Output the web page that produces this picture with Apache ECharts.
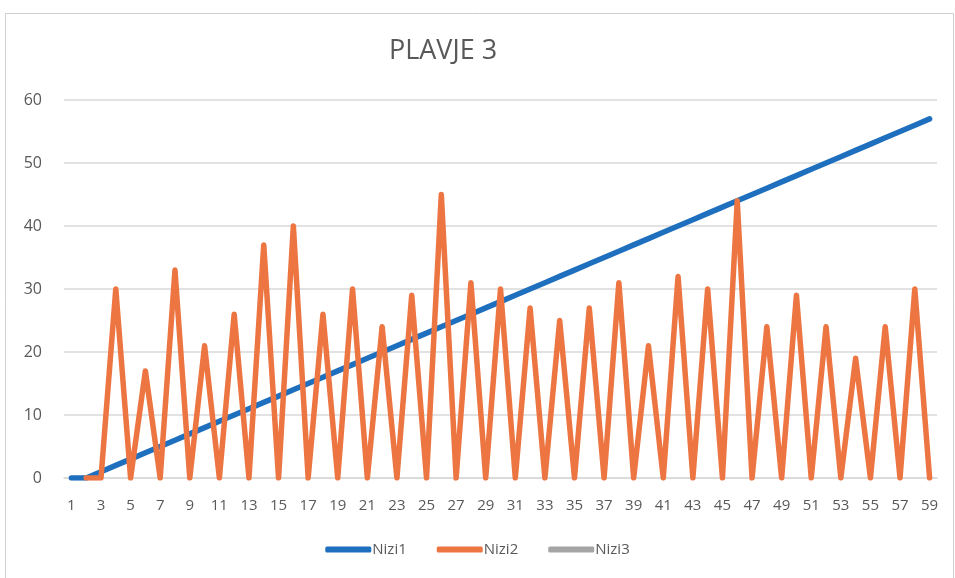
<!DOCTYPE html>
<html>
<head>
<meta charset="utf-8">
<script src="https://cdn.jsdelivr.net/npm/echarts@6/dist/echarts.min.js"></script>
<style>
  html, body { margin: 0; padding: 0; background: #ffffff; }
  #chart { width: 955px; height: 578px; }
</style>
</head>
<body>
<div id="chart"></div>
<script>
// Category labels 1..59
const categories = [
  '1','2','3','4','5','6','7','8','9','10',
  '11','12','13','14','15','16','17','18','19','20',
  '21','22','23','24','25','26','27','28','29','30',
  '31','32','33','34','35','36','37','38','39','40',
  '41','42','43','44','45','46','47','48','49','50',
  '51','52','53','54','55','56','57','58','59'
];

// Nizi1: steady rising line
const nizi1 = [
  0, 0, 1, 2, 3, 4, 5, 6, 7, 8,
  9, 10, 11, 12, 13, 14, 15, 16, 17, 18,
  19, 20, 21, 22, 23, 24, 25, 26, 27, 28,
  29, 30, 31, 32, 33, 34, 35, 36, 37, 38,
  39, 40, 41, 42, 43, 44, 45, 46, 47, 48,
  49, 50, 51, 52, 53, 54, 55, 56, 57
];

// Nizi2: alternating peaks and zeros (starts at category 2)
const nizi2 = [
  '-', 0, 0, 30, 0, 17, 0, 33, 0, 21,
  0, 26, 0, 37, 0, 40, 0, 26, 0, 30,
  0, 24, 0, 29, 0, 45, 0, 31, 0, 30,
  0, 27, 0, 25, 0, 27, 0, 31, 0, 21,
  0, 32, 0, 30, 0, 44, 0, 24, 0, 29,
  0, 24, 0, 19, 0, 24, 0, 30, 0
];

// Nizi3: no visible values
const nizi3 = [];

const yTicks = { min: 0, max: 60, interval: 10 };

const textColor = '#595959';
const fontFamily = '"Open Sans", "Liberation Sans", sans-serif';

const chart = echarts.init(document.getElementById('chart'), null, { renderer: 'canvas' });

chart.setOption({
  backgroundColor: '#ffffff',
  animation: false,
  title: {
    text: 'PLAVJE 3',
    left: 438,
    top: 33,
    textAlign: 'center',
    textStyle: { color: textColor, fontSize: 27, fontWeight: 'normal', fontFamily: fontFamily }
  },
  graphic: [{
    type: 'rect',
    shape: { x: 5.5, y: 13.5, width: 948, height: 570 },
    style: { fill: 'none', stroke: '#d0d0d0', lineWidth: 1 },
    silent: true
  }],
  legend: {
    bottom: 16,
    left: 'center',
    itemGap: 30,
    itemWidth: 46,
    itemHeight: 6,
    icon: 'roundRect',
    textStyle: { color: textColor, fontSize: 15, fontFamily: fontFamily, padding: [0, 0, 0, -4] },
    data: ['Nizi1', 'Nizi2', 'Nizi3']
  },
  grid: { left: 64, right: 18, top: 100, bottom: 100, containLabel: false },
  xAxis: {
    type: 'category',
    data: categories,
    boundaryGap: true,
    axisLine: { show: true, lineStyle: { color: '#d9d9d9', width: 1.5 } },
    axisTick: { show: false },
    axisLabel: { interval: 1, color: textColor, fontSize: 15, fontFamily: fontFamily, margin: 20 },
    splitLine: { show: false }
  },
  yAxis: {
    type: 'value',
    min: yTicks.min,
    max: yTicks.max,
    interval: yTicks.interval,
    axisLine: { show: false },
    axisTick: { show: false },
    axisLabel: { color: textColor, fontSize: 16, fontFamily: fontFamily, margin: 22 },
    splitLine: { lineStyle: { color: '#d9d9d9', width: 1.5 } }
  },
  series: [
    {
      name: 'Nizi1',
      type: 'line',
      data: nizi1,
      showSymbol: false,
      symbol: 'none',
      lineStyle: { color: '#1f6fbf', width: 5.5, cap: 'round' },
      itemStyle: { color: '#1f6fbf' },
      z: 2
    },
    {
      name: 'Nizi2',
      type: 'line',
      data: nizi2,
      showSymbol: false,
      symbol: 'none',
      lineStyle: { color: '#ec7542', width: 5.5, join: 'round', cap: 'round' },
      itemStyle: { color: '#ec7542' },
      z: 3
    },
    {
      name: 'Nizi3',
      type: 'line',
      data: nizi3,
      showSymbol: false,
      symbol: 'none',
      lineStyle: { color: '#a5a5a5', width: 5.5 },
      itemStyle: { color: '#a5a5a5' },
      z: 4
    }
  ]
});
</script>
</body>
</html>
